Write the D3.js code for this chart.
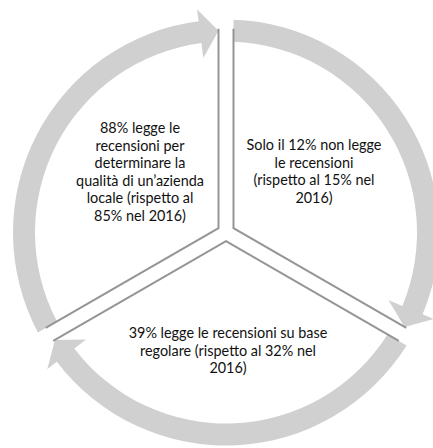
<!DOCTYPE html>
<html>
<meta charset="utf-8">
<head>
  <script src="https://d3js.org/d3.v7.min.js"></script>
  <style>
    body { margin: 0; background: #fff; }
    .ring { fill: #d0d0d0; }
    .edge { fill: none; stroke: #959595; stroke-width: 2px; }
    .label { font-family: Lato, "Open Sans", sans-serif; font-size: 14.4px; fill: #111; }
  </style>
</head>
<body>
<div id="chart"></div>
<script>
  "use strict"

  var width = 433,
      height = 448;

  // the three steps of the cycle, clockwise from the top
  var stepAngles = [0, 120, 240];
  var stepLabels = [
    ["Solo il 12% non legge", "le recensioni", "(rispetto al 15% nel", "2016)"],
    ["39% legge le recensioni su base", "regolare (rispetto al 32% nel", "2016)"],
    ["88% legge le", "recensioni per", "determinare la", "qualità di un’azienda", "locale (rispetto al", "85% nel 2016)"]
  ];

  var cx = 226, cy = 232.5;
  var gap = 7.5,           // half width of the white gap between sectors
      outerR = 213, innerR = 191, midR = 202,
      headOut = 225, headIn = 176, headLen = 7.4,
      edgeR = 204;

  var rad = Math.PI / 180;
  // angle in degrees clockwise from the top
  function pt(r, a) { return [cx + r * Math.sin(a * rad), cy - r * Math.cos(a * rad)]; }
  function sa(a) { return (a - 90) * rad; } // to canvas angle

  var svg = d3.select("#chart").append("svg")
      .attr("width", width)
      .attr("height", height);

  var steps = stepAngles.map(function(a, i) {
    return { a0: a, a1: a + 120, lines: stepLabels[i] };
  });

  function ringPath(d) {
    var p = d3.path();
    var s0 = d.a0 + Math.asin(gap / outerR) / rad,
        s1 = d.a0 + Math.asin(gap / innerR) / rad,
        b = d.a1 - headLen,
        tip = d.a1 - Math.asin(gap / midR) / rad;
    var q = pt(outerR, s0);
    p.moveTo(q[0], q[1]);
    p.arc(cx, cy, outerR, sa(s0), sa(b), false);
    q = pt(headOut, b); p.lineTo(q[0], q[1]);
    q = pt(midR, tip); p.lineTo(q[0], q[1]);
    q = pt(headIn, b); p.lineTo(q[0], q[1]);
    q = pt(innerR, b); p.lineTo(q[0], q[1]);
    p.arc(cx, cy, innerR, sa(b), sa(s1), true);
    p.closePath();
    return p.toString();
  }

  function edgePath(d) {
    var mid = (d.a0 + d.a1) / 2,
        apex = pt(gap / Math.sin(60 * rad), mid),
        e0 = pt(edgeR, d.a0 + Math.asin(gap / edgeR) / rad),
        e1 = pt(edgeR, d.a1 - Math.asin(gap / edgeR) / rad);
    return "M" + e0 + "L" + apex + "L" + e1;
  }

  svg.append("g")
    .selectAll("path")
      .data(steps)
    .enter().append("path")
      .attr("class", "ring")
      .attr("d", ringPath);

  svg.append("g")
    .selectAll("path")
      .data(steps)
    .enter().append("path")
      .attr("class", "edge")
      .attr("d", edgePath);

  // text blocks: centre x and first baseline
  var textPos = [[314, 150], [228, 338], [140, 133]];
  var lineH = 17.6;

  svg.append("g")
    .selectAll("text")
      .data(steps)
    .enter().append("text")
      .attr("class", "label")
      .attr("text-anchor", "middle")
      .attr("x", function(d, i) { return textPos[i][0]; })
      .attr("y", function(d, i) { return textPos[i][1]; })
    .selectAll("tspan")
      .data(function(d, i) { return d.lines.map(function(l) { return { t: l, i: i }; }); })
    .enter().append("tspan")
      .attr("x", function(d) { return textPos[d.i][0]; })
      .attr("dy", function(d, j) { return j ? lineH : 0; })
      .text(function(d) { return d.t; });
</script>
</body>
</html>
